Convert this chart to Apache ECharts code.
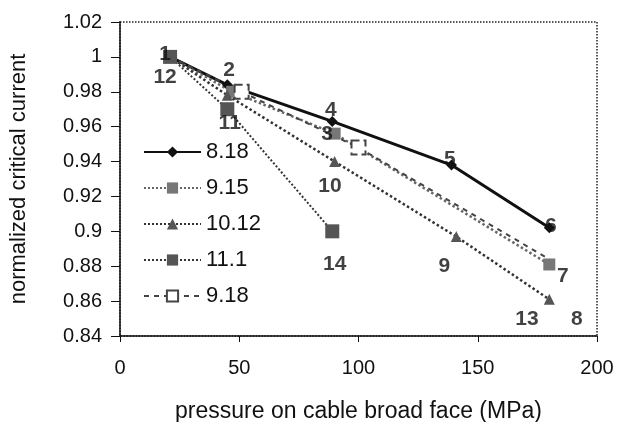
<!DOCTYPE html>
<html>
<head>
<meta charset="utf-8">
<script src="https://cdn.jsdelivr.net/npm/echarts@6/dist/echarts.min.js"></script>
<style>
  html, body { margin: 0; padding: 0; background: #fff; }
  #chart { width: 620px; height: 422px; }
</style>
</head>
<body>
<div id="chart"></div>
<script>
// data
var s818 = [[21, 1.0], [45, 0.984], [89, 0.963], [139, 0.938], [180, 0.902]]
var s915 = [[21, 1.0], [47, 0.980], [90, 0.956], [180, 0.881]]
var s1012 = [[21, 1.0], [45, 0.978], [90, 0.940], [141, 0.897], [180, 0.861]]
var s111 = [[21, 1.0], [45, 0.970], [89, 0.900]]
var s918 = [[21, 1.0], [51, 0.980], [100, 0.948], [180, 0.884]]
var seriesNames = ['8.18', '9.15', '10.12', '11.1', '9.18']
// point numbers written next to the marks
var pointLabels = [
  [18.9, 1.0017, '1'], [18.9, 0.9886, '12'], [45.7, 0.9926, '2'], [46, 0.9617, '11'],
  [88.4, 0.9697, '4'], [86.8, 0.9554, '3'], [88, 0.9257, '10'], [90, 0.881, '14'],
  [138.3, 0.9411, '5'], [136, 0.880, '9'], [180.6, 0.9029, '6'], [185.7, 0.8743, '7'],
  [170.6, 0.8497, '13'], [191.5, 0.8497, '8']
]

var FONT = 'Liberation Sans'

function line(name, data, extra) {
  return Object.assign({
    name: name,
    type: 'line',
    data: data,
    symbolSize: 9,
    z: 3
  }, extra)
}

var chart = echarts.init(document.getElementById('chart'))
var option = {
  animation: false,
  textStyle: { fontFamily: FONT },
  grid: {
    left: 120, right: 23, top: 22, bottom: 86,
    outerBoundsMode: 'none',
    containLabel: false,
    show: true,
    borderColor: '#222',
    borderWidth: 1.5,
    borderType: 'dotted'
  },
  legend: {
    data: seriesNames,
    orient: 'vertical',
    left: 138,
    top: 135,
    itemWidth: 57,
    itemHeight: 14,
    itemGap: 12,
    textStyle: { fontSize: 22, color: '#111', fontFamily: FONT, lineHeight: 24 }
  },
  xAxis: {
    type: 'value',
    min: 0, max: 200, interval: 50,
    name: 'pressure on cable broad face (MPa)',
    nameLocation: 'middle',
    nameGap: 64,
    nameTextStyle: { fontSize: 23, color: '#111', fontFamily: FONT },
    axisLine: { show: true, lineStyle: { color: '#111', width: 1.5 } },
    axisTick: { show: true, length: 6, lineStyle: { color: '#111' } },
    axisLabel: { fontSize: 20, color: '#111', margin: 22, fontFamily: FONT },
    splitLine: { show: false }
  },
  yAxis: {
    type: 'value',
    min: 0.84, max: 1.02, interval: 0.02,
    name: 'normalized critical current',
    nameLocation: 'middle',
    nameGap: 90,
    nameTextStyle: { fontSize: 22, color: '#111', fontFamily: FONT },
    axisLine: { show: true, lineStyle: { color: '#111', width: 1.5 } },
    axisTick: { show: true, length: 9, lineStyle: { color: '#111' } },
    axisLabel: {
      fontSize: 20, color: '#111', margin: 18, fontFamily: FONT,
      formatter: function (v) { return String(+v.toFixed(2)) }
    },
    splitLine: { show: false }
  },
  series: [
    line('8.18', s818, {
      symbol: 'diamond', symbolSize: 11,
      itemStyle: { color: '#111' },
      lineStyle: { color: '#111', width: 3 }
    }),
    line('9.15', s915, {
      symbol: 'rect', symbolSize: 12,
      itemStyle: { color: '#777' },
      lineStyle: { color: '#666', width: 2.5, type: 'dotted' }
    }),
    line('10.12', s1012, {
      symbol: 'triangle', symbolSize: 11,
      itemStyle: { color: '#555' },
      lineStyle: { color: '#333', width: 2.5, type: 'dotted' }
    }),
    line('9.18', s918.map(function (p, i) {
      // first and last points of this run show no marker of their own
      return (i === 0 || i === s918.length - 1) ? { value: p, symbol: 'none' } : p
    }), {
      symbol: 'emptyRect', symbolSize: 14,
      itemStyle: { color: '#444', borderWidth: 1.2, borderType: 'dashed' },
      lineStyle: { color: '#444', width: 2, type: [5, 5] }
    }),
    line('11.1', s111, {
      symbol: 'rect', symbolSize: 14,
      z: 4,
      itemStyle: { color: '#555' },
      lineStyle: { color: '#333', width: 2, type: 'dotted' }
    }),
    {
      type: 'scatter',
      data: pointLabels,
      symbolSize: 1,
      itemStyle: { color: 'transparent' },
      silent: true,
      z: 5,
      label: {
        show: true,
        position: 'inside',
        fontSize: 21,
        fontWeight: 'bold',
        color: '#111',
        fontFamily: FONT,
        formatter: function (p) { return p.data[2] }
      }
    }
  ]
}
chart.setOption(option)
</script>
</body>
</html>
